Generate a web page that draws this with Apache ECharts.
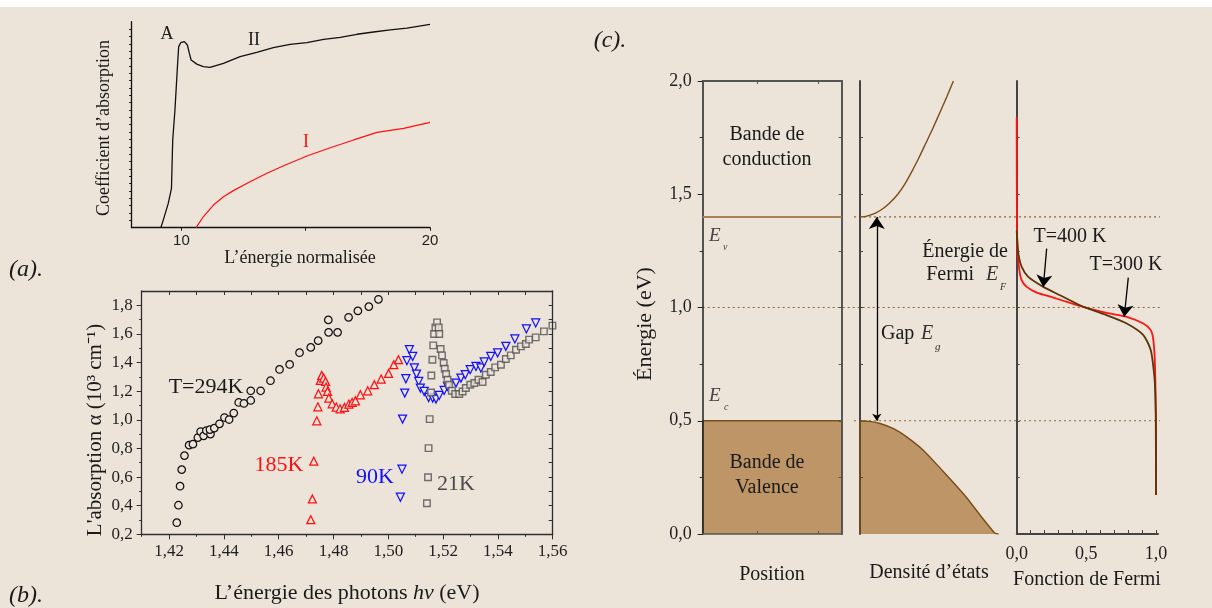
<!DOCTYPE html>
<html><head><meta charset="utf-8">
<script src="https://cdn.jsdelivr.net/npm/echarts@6/dist/echarts.min.js"></script>
<style>html,body{margin:0;padding:0;background:#ece3d9;}#c{width:1212px;height:608px;}</style>
</head><body><div id="c"></div>
<script>
// ---------- Panel (a) ----------
const aCurveII = [[9.17,0],[9.27,3.7],[9.47,11.8],[9.60,19.1],[9.65,42.6],[9.74,57.1],[9.84,78.2],[9.89,87.9],[9.97,89.8],[10.12,90.3],[10.24,88.7],[10.32,84.6],[10.39,81.4],[10.62,79.4],[10.88,78.2],[11.15,77.8],[11.69,79.8],[12.36,83.0],[13.03,85.1],[13.70,87.4],[14.37,89.0],[15.05,89.8],[15.72,91.4],[16.39,92.4],[17.06,93.9],[17.73,95.0],[18.40,96.0],[19.07,96.9],[20.0,98.7]];
const aCurveI = [[10.59,0],[10.88,5.3],[11.29,11.0],[11.69,15.0],[12.09,18.0],[12.76,22.3],[13.44,26.4],[14.11,30.1],[15.05,34.8],[15.99,38.8],[16.93,42.6],[17.87,46.3],[18.94,48.2],[20.0,51.1]];
const aXTicks = [10,15,20];
const aXLabels = [10,20];
// ---------- Panel (b) ----------
const b294 = [[1.4228,0.281],[1.4234,0.403],[1.4240,0.536],[1.4246,0.652],[1.4256,0.750],[1.4273,0.823],[1.4287,0.830],[1.4305,0.876],[1.4315,0.918],[1.4326,0.888],[1.4336,0.925],[1.4351,0.900],[1.4349,0.932],[1.4365,0.942],[1.4384,0.972],[1.4402,1.016],[1.4419,1.002],[1.4436,1.047],[1.4454,1.121],[1.4473,1.114],[1.4498,1.135],[1.4498,1.203],[1.4534,1.203],[1.4570,1.273],[1.4603,1.352],[1.4640,1.387],[1.4676,1.469],[1.4717,1.506],[1.4744,1.553],[1.4781,1.698],[1.4782,1.611],[1.4815,1.611],[1.4855,1.716],[1.4889,1.761],[1.4929,1.791],[1.4964,1.842]];
const b185 = [[1.4717,0.302],[1.4723,0.447],[1.4728,0.711],[1.4739,0.993],[1.4743,1.091],[1.4745,1.182],[1.4752,1.275],[1.4757,1.310],[1.4764,1.292],[1.4771,1.268],[1.4773,1.229],[1.4778,1.198],[1.4783,1.152],[1.4795,1.112],[1.4810,1.089],[1.4824,1.077],[1.4840,1.086],[1.4856,1.110],[1.4868,1.121],[1.4880,1.133],[1.4898,1.175],[1.4925,1.203],[1.4949,1.245],[1.4974,1.285],[1.5001,1.324],[1.5020,1.385],[1.5037,1.420]];
const b90 = [[1.5044,0.459],[1.5050,0.655],[1.5052,1.005],[1.5060,1.187],[1.5064,1.287],[1.5068,1.413],[1.5077,1.490],[1.5089,1.443],[1.5095,1.362],[1.5103,1.320],[1.5111,1.268],[1.5117,1.222],[1.5131,1.198],[1.5147,1.156],[1.5162,1.152],[1.5174,1.145],[1.5186,1.170],[1.5204,1.205],[1.5216,1.233],[1.5247,1.257],[1.5265,1.292],[1.5281,1.315],[1.5299,1.350],[1.5320,1.373],[1.5338,1.362],[1.5350,1.404],[1.5374,1.443],[1.5399,1.467],[1.5429,1.513],[1.5462,1.565],[1.5504,1.635],[1.5538,1.677]];
const b21 = [[1.5141,0.417],[1.5145,0.599],[1.5147,0.802],[1.5151,1.005],[1.5156,1.191],[1.5157,1.310],[1.5161,1.420],[1.5164,1.520],[1.5167,1.600],[1.5172,1.646],[1.5178,1.681],[1.5184,1.646],[1.5186,1.600],[1.5191,1.495],[1.5196,1.450],[1.5202,1.397],[1.5206,1.357],[1.5211,1.320],[1.5216,1.280],[1.5222,1.245],[1.5232,1.203],[1.5244,1.180],[1.5259,1.180],[1.5271,1.198],[1.5283,1.222],[1.5299,1.245],[1.5314,1.257],[1.5329,1.280],[1.5344,1.264],[1.5356,1.315],[1.5374,1.334],[1.5390,1.366],[1.5411,1.385],[1.5429,1.425],[1.5447,1.450],[1.5466,1.490],[1.5484,1.513],[1.5502,1.530],[1.5514,1.560],[1.5538,1.576],[1.5568,1.618],[1.5599,1.658]];
const bXMajor = [1.42,1.44,1.46,1.48,1.50,1.52,1.54,1.56];
const bXMinor = [1.41,1.43,1.45,1.47,1.49,1.51,1.53,1.55];
const bYMajor = [0.2,0.4,0.6,0.8,1.0,1.2,1.4,1.6,1.8];
const bYMinor = [0.3,0.5,0.7,0.9,1.1,1.3,1.5,1.7];
// ---------- Panel (c) ----------
const cYMajor = [0,0.5,1.0,1.5,2.0];
const cYMinor = [0.25,0.75,1.25,1.75];
const cYInner = [0.25,0.5,0.75,1.0,1.25,1.5,1.75];
const cValenceBand = [[0,0],[0,0.5],[1,0.5]];
const cEvLine = [[0,1.4],[1,1.4]];
const cDosCond = [[0,1.40],[0.03,1.401],[0.06,1.406],[0.11,1.417],[0.16,1.435],[0.21,1.46],[0.27,1.50],[0.32,1.545],[0.37,1.60],[0.42,1.66],[0.47,1.725],[0.52,1.79],[0.57,1.86],[0.62,1.93],[0.667,2.0]];
const cDosVal = [[0,0],[0,0.5],[0.07,0.497],[0.143,0.488],[0.24,0.465],[0.333,0.429],[0.452,0.37],[0.571,0.292],[0.67,0.225],[0.762,0.16],[0.857,0.084],[0.964,0.003],[0.99,0]];
const cGapArrow = [[0.12,0.5],[0.12,1.4]];
const cFermi300 = [[0,1.84],[0.004,1.267],[0.019,1.165],[0.036,1.120],[0.072,1.091],[0.144,1.066],[0.263,1.044],[0.383,1.020],[0.502,0.998],[0.646,0.976],[0.790,0.959],[0.909,0.929],[0.962,0.900],[0.981,0.856],[0.993,0.738],[0.998,0.532],[1.0,0.172]];
const cFermi400 = [[0,1.34],[0.004,1.30],[0.012,1.238],[0.036,1.179],[0.083,1.135],[0.191,1.091],[0.311,1.054],[0.454,1.010],[0.502,0.998],[0.646,0.966],[0.790,0.929],[0.909,0.878],[0.962,0.812],[0.986,0.709],[0.995,0.620],[1.0,0.45],[1.0,0.172]];
const cArrow400 = [[0.215,1.26],[0.191,1.091]];
const cArrow300 = [[0.801,1.132],[0.772,0.959]];
const cFermiXTicks = [0,0.1,0.2,0.3,0.4,0.5,0.6,0.7,0.8,0.9,1.0];
const cFermiXLabels = [0,0.5,1.0];
const cLevelFermi = [[0,1.0],[1,1.0]];
const cLevelCond = [[0.331,1.4],[1,1.4]];
const cLevelVal = [[0.331,0.5],[1,0.5]];

const SERIF = '"Liberation Serif","Times New Roman",serif';
const SANS = '"Liberation Sans",Arial,sans-serif';
const AX = '#2e2e2e';
const BG = '#ece3d9';
const comma = d => v => v.toFixed(d).replace('.', ',');

function axis(o) {
  return {
    type: 'value', gridIndex: o.grid, position: o.pos, min: o.min, max: o.max,
    show: o.show !== false, z: 3,
    axisLine: { show: !!o.line, onZero: false, lineStyle: { color: o.lc || AX, width: o.lw || 1.3 } },
    axisTick: o.ticks ? { show: true, inside: !!o.inside, length: o.tl || 4, customValues: o.ticks, lineStyle: { color: o.lc || AX, width: 1 } } : { show: false },
    axisLabel: o.labels ? { show: true, customValues: o.labels, formatter: o.fmt, margin: o.margin || 8, fontFamily: o.font || SERIF, fontSize: o.fs || 17, color: '#1e1e1e' } : { show: false },
    splitLine: { show: false }
  };
}
const aYTicks = []; for (let k = 1; k < 28; k++) aYTicks.push(k * 100 / 28);
const bXTop = []; for (let k = 142; k <= 155; k++) bXTop.push(k / 100);
const bYRight = []; for (let k = 3; k <= 18; k++) bYRight.push(k / 10);

const grids = [
  { left: 131.7, top: 21.7, width: 298.3, height: 206 },   // a
  { left: 141.7, top: 291, width: 411, height: 243.3 },    // b
  { left: 702.7, top: 81, width: 139, height: 453 },       // c1
  { left: 860, top: 81, width: 140, height: 453 },         // c2
  { left: 1016.7, top: 81, width: 141.4, height: 453 },    // c3
  { left: 702.7, top: 81, width: 457.3, height: 453 }      // overlay
];
const xAxis = [
  axis({ grid: 0, pos: 'bottom', min: 8, max: 20, line: true, lc: '#111', ticks: aXTicks, tl: 3, labels: aXLabels, fmt: v => String(v), font: SANS, fs: 15, margin: 6 }),
  axis({ grid: 1, pos: 'bottom', min: 1.41, max: 1.56, line: true, ticks: bXMajor, tl: 5, labels: bXMajor, fmt: comma(2), margin: 9 }),
  axis({ grid: 1, pos: 'bottom', min: 1.41, max: 1.56, ticks: bXMinor, tl: 2.5 }),
  axis({ grid: 1, pos: 'top', min: 1.41, max: 1.56, line: true, ticks: bXTop, inside: true, tl: 4 }),
  axis({ grid: 2, pos: 'bottom', min: 0, max: 1, line: true, lc: '#555', lw: 1.6, ticks: [0.39, 0.83], inside: true, tl: 3 }),
  axis({ grid: 2, pos: 'top', min: 0, max: 1, line: true, lc: '#555', lw: 2, ticks: [0.39, 0.83], inside: true, tl: 3 }),
  axis({ grid: 3, pos: 'bottom', min: 0, max: 1, show: false }),
  axis({ grid: 4, pos: 'bottom', min: 0, max: 1.015, line: true, lc: '#444', lw: 1.8, ticks: cFermiXTicks, inside: true, tl: 4, labels: cFermiXLabels, fmt: comma(1), margin: 11, fs: 18 }),
  axis({ grid: 5, pos: 'bottom', min: 0, max: 1, show: false })
];
const yAxis = [
  axis({ grid: 0, pos: 'left', min: 0, max: 100, line: true, lc: '#111', ticks: aYTicks, tl: 2.5 }),
  axis({ grid: 1, pos: 'left', min: 0.2, max: 1.9, line: true, ticks: bYMajor, tl: 5, labels: bYMajor, fmt: comma(1), margin: 9 }),
  axis({ grid: 1, pos: 'left', min: 0.2, max: 1.9, ticks: bYMinor, tl: 2.5 }),
  axis({ grid: 1, pos: 'right', min: 0.2, max: 1.9, line: true, ticks: bYRight, inside: true, tl: 4 }),
  axis({ grid: 2, pos: 'left', min: 0, max: 2, line: true, lc: '#222', lw: 1.5, ticks: cYMajor, tl: 5, labels: cYMajor, fmt: comma(1), margin: 11, fs: 18 }),
  axis({ grid: 2, pos: 'left', min: 0, max: 2, ticks: cYMinor, tl: 3 }),
  axis({ grid: 2, pos: 'right', min: 0, max: 2, line: true, lc: '#555', lw: 2, ticks: cYInner, inside: true, tl: 3 }),
  axis({ grid: 3, pos: 'left', min: 0, max: 2, line: true, lc: '#444', lw: 2, ticks: cYInner, inside: true, tl: 3 }),
  axis({ grid: 4, pos: 'left', min: 0, max: 2, line: true, lc: '#444', lw: 2, ticks: cYInner, inside: true, tl: 3 }),
  axis({ grid: 5, pos: 'left', min: 0, max: 2, show: false })
];

const line = (xi, yi, data, color, width, extra) => Object.assign({
  type: 'line', xAxisIndex: xi, yAxisIndex: yi, data, symbol: 'none', silent: true, animation: false,
  lineStyle: { color, width }
}, extra || {});
const scat = (data, symbol, size, color, extra) => Object.assign({
  type: 'scatter', xAxisIndex: 1, yAxisIndex: 1, data, symbol, symbolSize: size, silent: true, animation: false,
  itemStyle: { color: BG, borderColor: color, borderWidth: 1.25, opacity: 1 }
}, extra || {});
const arrow = (xi, yi, coords, sym) => ({
  type: 'lines', coordinateSystem: 'cartesian2d', xAxisIndex: xi, yAxisIndex: yi, silent: true, animation: false,
  data: [{ coords }], symbol: sym, symbolSize: [7, 12], lineStyle: { color: '#000', width: 1.3, opacity: 1 }, z: 6
});
const dotted = { color: '#8b6538', width: 1.2, type: [2, 3] };

const BROWN_FILL = '#bd9567';
const series = [
  line(0, 0, aCurveII, '#111', 1.3),
  line(0, 0, aCurveI, '#ff1010', 1.2),
  scat(b294, 'circle', 7.5, '#111'),
  scat(b185, 'triangle', 8, '#ff1010'),
  scat(b90, 'triangle', 8, '#1010ff', { symbolRotate: 180 }),
  scat(b21, 'rect', 6.5, '#505050', { itemStyle: { color: BG, borderColor: '#505050', borderWidth: 1.4 } }),
  line(8, 9, cLevelFermi, '#8b6538', 1.2, { lineStyle: dotted, z: 1 }),
  line(8, 9, cLevelCond, '#8b6538', 1.2, { lineStyle: dotted, z: 1 }),
  line(8, 9, cLevelVal, '#8b6538', 1.2, { lineStyle: dotted, z: 1 }),
  line(4, 4, cValenceBand, '#7a5020', 1.5, { areaStyle: { color: BROWN_FILL, opacity: 1 }, z: 2 }),
  line(4, 4, cEvLine, '#a9825a', 2),
  line(6, 7, cDosCond, '#7a4c16', 1.4, { smooth: 0.2 }),
  line(6, 7, cDosVal, '#7a4c16', 1.4, { smooth: 0.2, areaStyle: { color: BROWN_FILL, opacity: 1 } }),
  arrow(6, 7, cGapArrow, ['arrow', 'arrow']),
  line(7, 8, cFermi300, '#ff1414', 1.8, { smooth: 0.25, z: 4 }),
  line(7, 8, cFermi400, '#5a3608', 1.8, { smooth: 0.25, z: 5 }),
  arrow(7, 8, cArrow400, ['none', 'arrow']),
  arrow(7, 8, cArrow300, ['none', 'arrow'])
];

function txt(text, x, y, size, opts) {
  opts = opts || {};
  const font = (opts.italic ? 'italic ' : '') + size + 'px ' + (opts.font || SERIF);
  return {
    type: 'text', x, y, rotation: opts.rot || 0, z: 20, silent: true,
    style: {
      text, font, fill: opts.color || '#1a1a1a',
      align: opts.align || 'center', textAlign: opts.align || 'center',
      verticalAlign: 'middle', textVerticalAlign: 'middle',
      rich: opts.rich
    }
  };
}
const graphic = [
  { type: 'rect', shape: { x: 0, y: 0, width: 1212, height: 7 }, style: { fill: '#ffffff' }, z: 0, silent: true },
  txt('(a).', 26, 270, 24, { italic: true }),
  txt('(b).', 26, 596, 24, { italic: true }),
  txt('(c).', 610, 41, 24, { italic: true }),
  txt('Coefficient d’absorption', 104, 128, 18, { rot: Math.PI / 2 }),
  txt('L’énergie normalisée', 300, 258, 18),
  txt('A', 167, 34, 18),
  txt('II', 254, 40, 18),
  txt('I', 306, 142, 18, { color: '#ff1010' }),
  txt('L\'absorption α (10³ cm⁻¹)', 95, 430, 21, { rot: Math.PI / 2 }),
  txt('{n|L’énergie des photons }{i|hν}{n| (eV)}', 347, 593, 22, {
    rich: { n: { font: '22px ' + SERIF, fill: '#1a1a1a' }, i: { font: 'italic 22px ' + SERIF, fill: '#1a1a1a' } }
  }),
  txt('T=294K', 206, 387, 22),
  txt('185K', 279, 465, 22, { color: '#ff1010' }),
  txt('90K', 375, 477, 22, { color: '#1010ff' }),
  txt('21K', 456, 484, 22, { color: '#4a4a4a' }),
  txt('Bande de', 767, 135, 20),
  txt('conduction', 767, 160, 20),
  txt('Bande de', 767, 463, 20),
  txt('Valence', 767, 488, 20),
  txt('E', 709, 236, 19, { italic: true, align: 'left', color: '#444' }),
  txt('v', 723, 247, 10, { italic: true, align: 'left', color: '#444' }),
  txt('E', 709, 396, 19, { italic: true, align: 'left', color: '#444' }),
  txt('c', 724, 407, 10, { italic: true, align: 'left', color: '#444' }),
  txt('Énergie de', 1008, 252, 20, { align: 'right' }),
  txt('Fermi', 974, 275, 20, { align: 'right' }),
  txt('E', 986, 275, 20, { italic: true, align: 'left', color: '#333' }),
  txt('F', 1000, 287, 10, { italic: true, align: 'left', color: '#333' }),
  txt('Gap', 881, 334, 20, { align: 'left' }),
  txt('E', 921, 334, 20, { italic: true, align: 'left', color: '#333' }),
  txt('g', 935, 347, 11, { italic: true, align: 'left', color: '#333' }),
  txt('T=400 K', 1070, 237, 20),
  txt('T=300 K', 1126, 265, 20),
  txt('Position', 772, 575, 20),
  txt('Densité d’états', 929, 573, 20),
  txt('Fonction de Fermi', 1087, 580, 20),
  txt('Énergie (eV)', 645, 324, 22, { rot: Math.PI / 2 })
];

const chart = echarts.init(document.getElementById('c'), null, { renderer: 'canvas' });
chart.setOption({
  backgroundColor: BG, animation: false,
  grid: grids, xAxis, yAxis, series, graphic
});
</script></body></html>
